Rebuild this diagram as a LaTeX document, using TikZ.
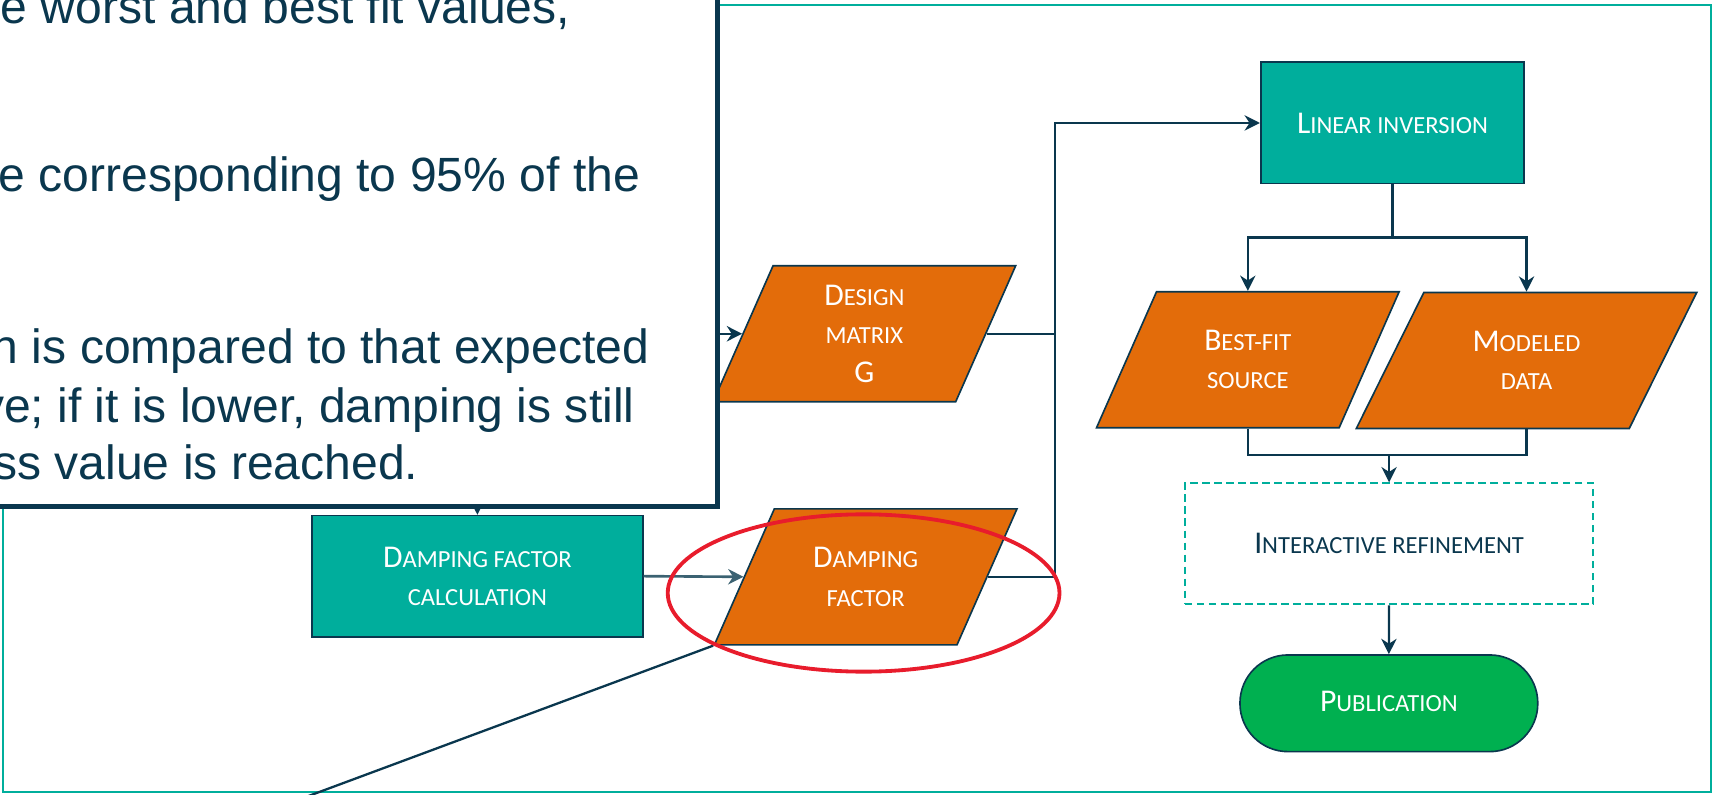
\documentclass[tikz,border=0pt]{standalone}
\usepackage{fontspec}
\setmainfont{Liberation Sans}
\newfontfamily\calibri{Carlito}
\usetikzlibrary{shapes.geometric,arrows.meta,backgrounds}

\definecolor{flowteal}{RGB}{0,174,156}
\definecolor{floworange}{RGB}{227,108,10}
\definecolor{flownavy}{RGB}{10,55,78}
\definecolor{flowgreen}{RGB}{0,176,80}
\definecolor{ringred}{RGB}{232,28,44}
\definecolor{linkblue}{RGB}{59,98,114}

% larger initial capital for the small-caps labels
\newcommand\firstcap[1]{{\fontsize{29}{35}\selectfont #1}}
% label of a data shape, set in a box of the shape's full height
\newcommand\datalabel[1]{\parbox[c][124.5pt][c]{140pt}{\centering #1}}

\tikzset{
  labelfont/.style={font=\calibri\fontsize{22.5}{35}\selectfont},
  procbox/.style={rectangle, draw=flownavy, line width=1.5pt, fill=flowteal,
    text=white, labelfont, align=center, inner sep=0pt},
  databox/.style={trapezium, trapezium left angle=66.2, trapezium right angle=113.8,
    trapezium stretches body, draw=flownavy, line width=1.5pt, fill=floworange,
    text=white, labelfont, inner sep=0pt,
    minimum height=124.5pt, minimum width=277pt},
  refbox/.style={rectangle, draw=flowteal, line width=1.8pt, dash pattern=on 7pt off 4pt,
    text=flownavy, labelfont, align=center, inner sep=0pt},
  endbox/.style={rectangle, rounded corners=44pt, draw=flownavy, line width=1.5pt,
    fill=flowgreen, text=white, labelfont, align=center, inner sep=0pt},
  bigtext/.style={anchor=base east, inner sep=0pt, text=flownavy,
    font=\fontsize{44}{53}\selectfont},
  link/.style={draw=flownavy, line width=2.1pt},
  arrow/.style={link, -{Stealth[length=14pt,width=14pt,inset=4.5pt]}},
}

\begin{document}
\begin{tikzpicture}[x=1pt,y=-1pt]
\useasboundingbox (0,0) rectangle (1568,727);

% outer frame
\node[draw=flowteal, line width=1.8pt, minimum width=1563pt, minimum height=720.2pt,
      inner sep=0pt] (frame) at (784.5,364.7) {};

% flowchart elements
\node[databox] (dm) at (791.2,305.5) {\datalabel{\firstcap{D}ESIGN\\MATRIX\\\firstcap{G}}};
\node[databox] (df) at (792.4,528) {\datalabel{\firstcap{D}AMPING\\FACTOR}};
\node[databox] (bf) at (1142.2,329.3) {\datalabel{\firstcap{B}EST-FIT\\SOURCE}};
\node[databox, trapezium left angle=63.6, trapezium right angle=116.4,
      minimum width=311.6pt] (md) at (1397.3,330) {\datalabel{\firstcap{M}ODELED\\DATA}};
\node[procbox, minimum width=241.2pt, minimum height=111.1pt] (li) at (1274.6,112.55)
      {\firstcap{L}INEAR INVERSION};
\node[procbox, minimum width=302.7pt, minimum height=110.8pt] (calc) at (437,527.4)
      {\firstcap{D}AMPING FACTOR\\CALCULATION};
\node[refbox, minimum width=374pt, minimum height=110.8pt] (ir) at (1271.5,497.8)
      {\firstcap{I}NTERACTIVE REFINEMENT};
\node[endbox, minimum width=272.6pt, minimum height=88.5pt] (pub) at (1271.3,643.75)
      {\raisebox{4pt}{\firstcap{P}UBLICATION}};

% text panel
\node[draw=flownavy, line width=4.5pt, fill=white, minimum width=690pt,
      minimum height=490pt, inner sep=0pt] (txt) at (312,218.7) {};
\node[bigtext] (t1) at (522,21.5) {e worst and best fit values,};
\node[bigtext] (t2) at (586,175.5) {e corresponding to 95\% of the};
\node[bigtext] (t3) at (594.5,332.6) {n is compared to that expected};
\node[bigtext] (t4) at (581,386.6) {ve; if it is lower, damping is still};
\node[bigtext] (t5) at (383,438.8) {ss value is reached.};

% connectors leaving the text panel
\begin{scope}[on background layer]
  \draw[arrow] (txt.center |- dm.left side) -- (dm.left side);
  \draw[arrow] (calc.north |- txt.center) -- (calc.north);
\end{scope}

% connectors
\coordinate (jx) at (966,0);
\draw[link] (dm.right side) -- (jx |- dm.right side);
\draw[arrow] (df.right side) -| (jx |- li.west) -- (li.west);
\draw[arrow, draw=linkblue, line width=2.4pt] (calc.east) -- (df.left side);

\coordinate (split) at (li.south |- 0,217.5);
\draw[link] (li.south) -- (split);
\draw[arrow] (split) -| (bf.center |- bf.north);
\draw[arrow] (split) -| (md.center |- md.north);

\coordinate (merge) at (ir.north |- 0,416.5);
\draw[link] (bf.center |- bf.south) |- (merge) -| (md.center |- md.south);
\draw[arrow] (merge) -- (ir.north);
\draw[arrow] (ir.south) -- (pub.north);

\coordinate (tail) at (276,731);
\draw[link] (df.bottom left corner) -- (tail);

% highlight ring
\node[ellipse, draw=ringred, line width=3.5pt, minimum width=358.6pt,
      minimum height=144pt, inner sep=0pt] (ring) at (790.5,542.8) {};
\end{tikzpicture}
\end{document}
